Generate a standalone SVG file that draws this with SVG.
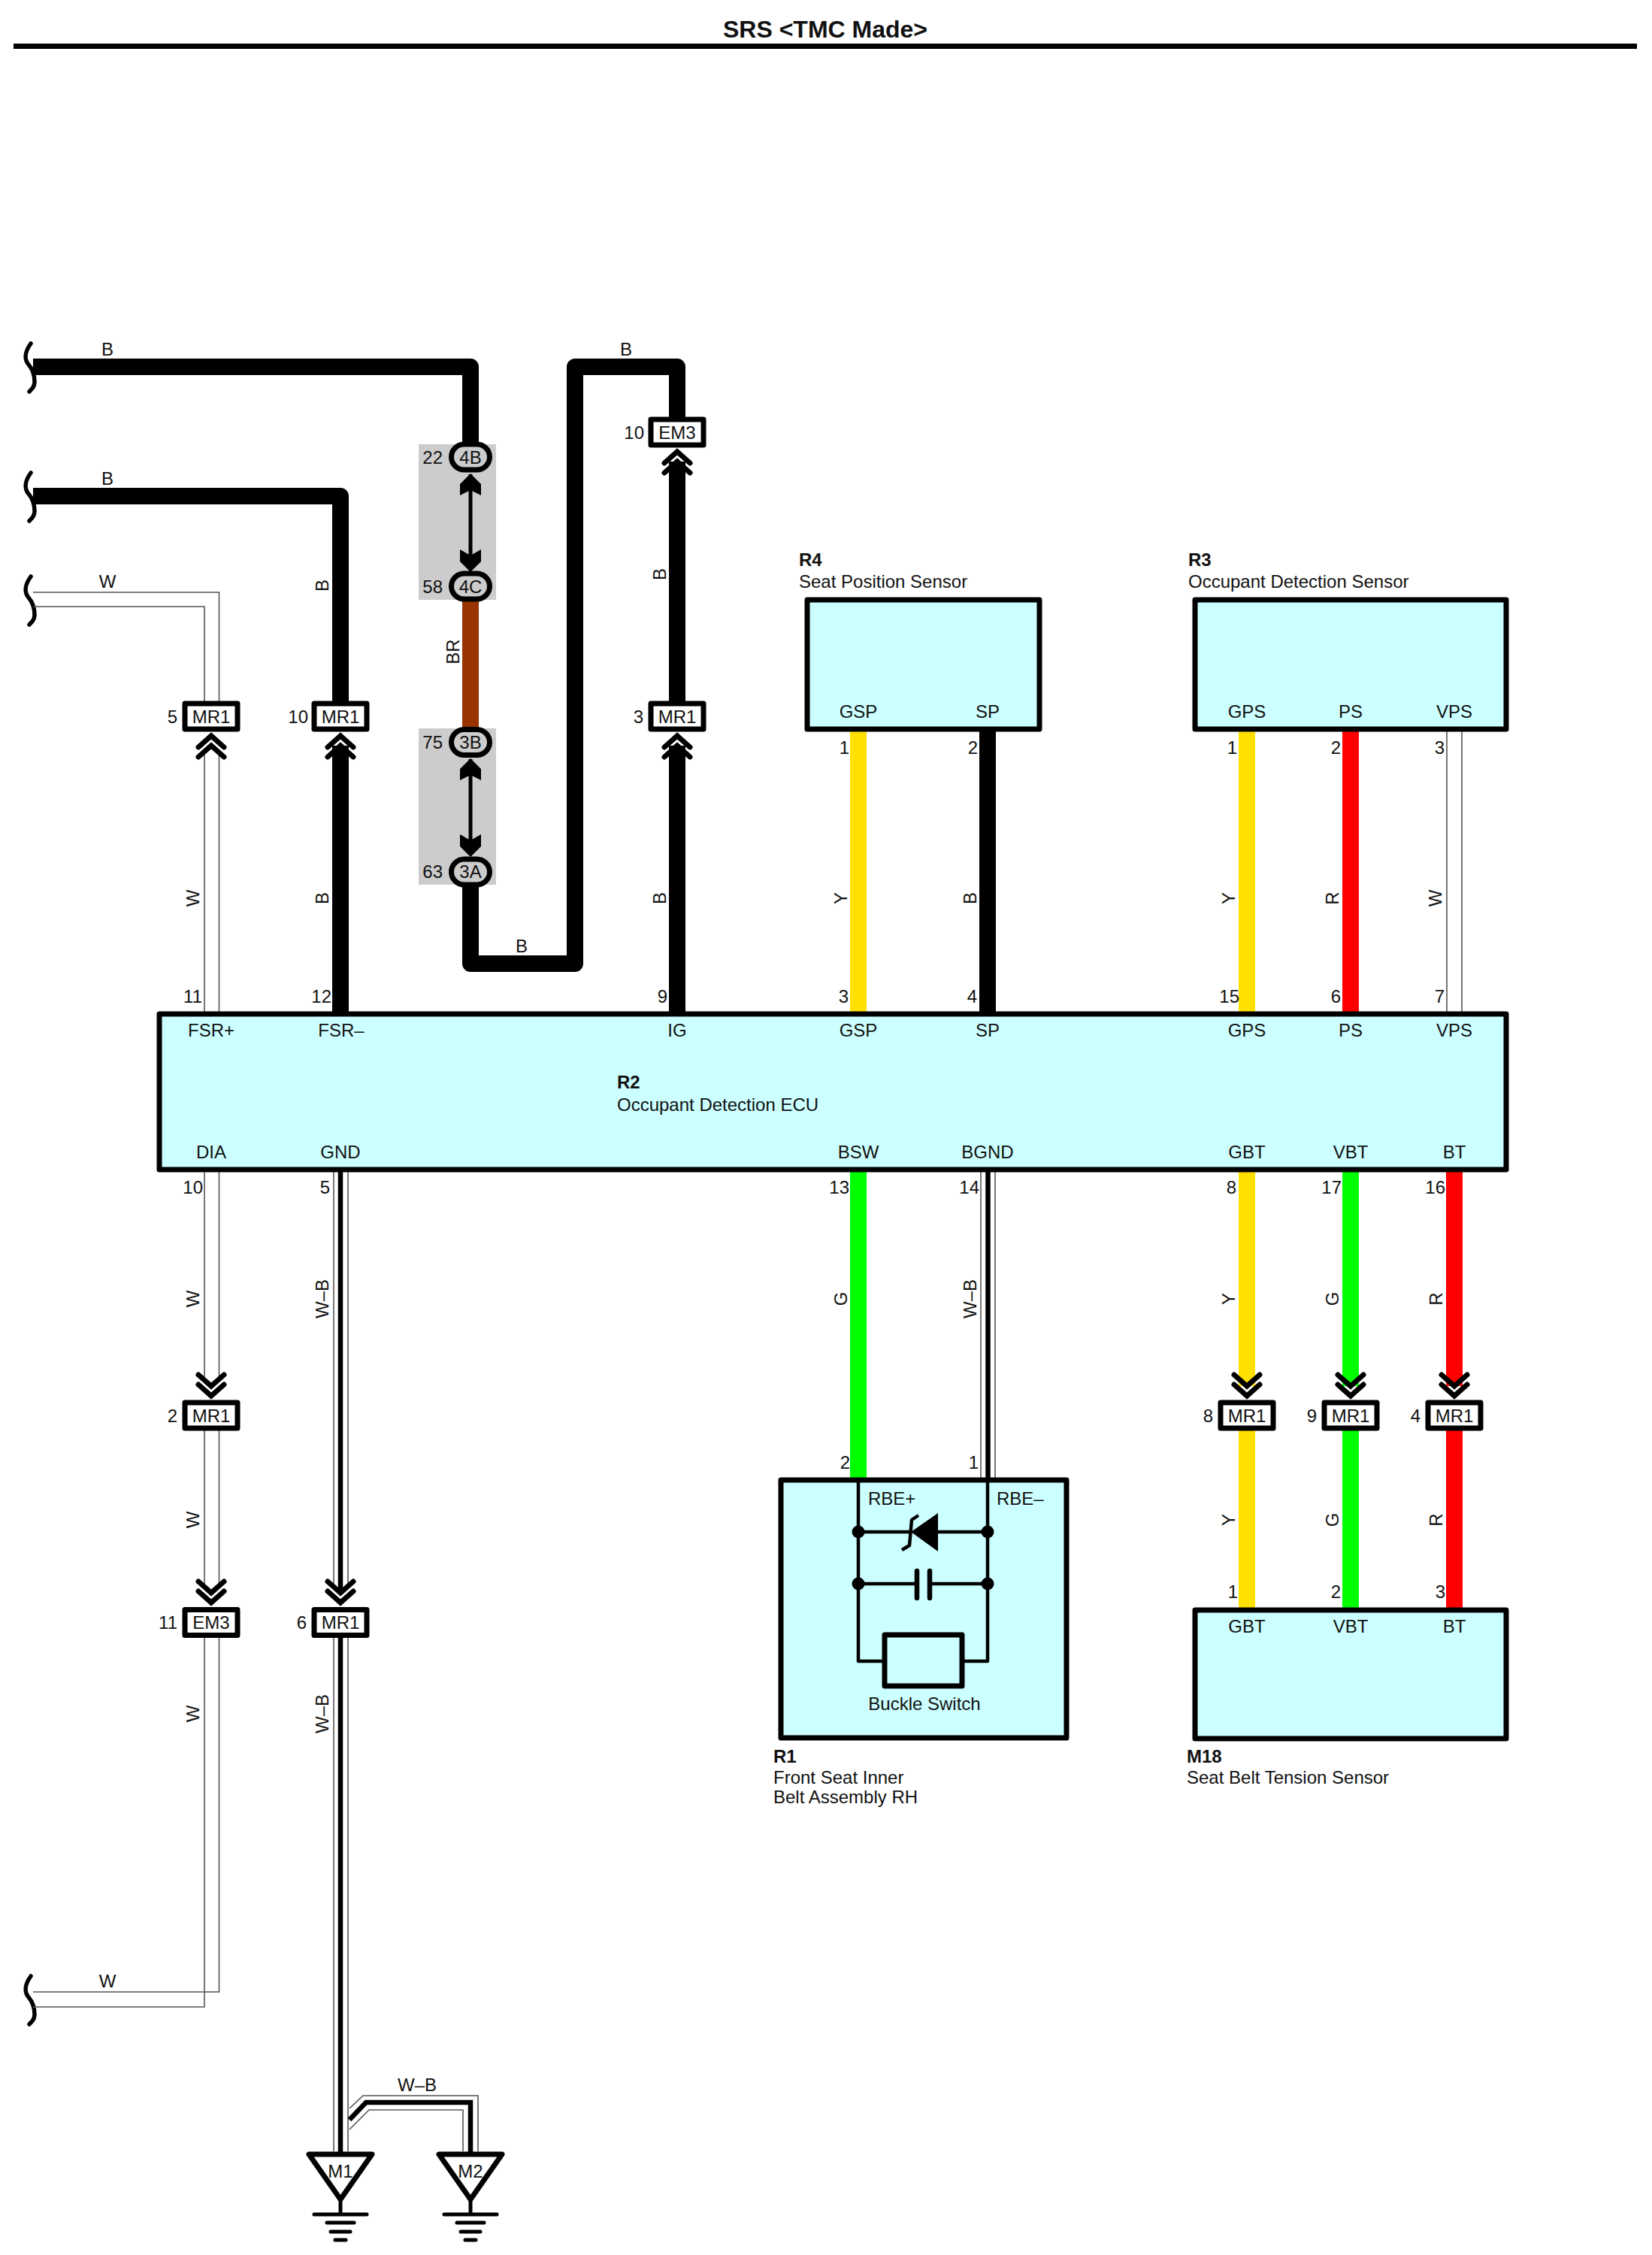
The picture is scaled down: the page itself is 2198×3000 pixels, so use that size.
<svg xmlns="http://www.w3.org/2000/svg" width="2198" height="3000" viewBox="0 0 2198 3000">
<style>
text{font-family:"Liberation Sans",Arial,sans-serif;font-size:24px;fill:#111}
.b{font-weight:bold}
.m{text-anchor:middle}
.e{text-anchor:end}
.box{fill:#ccffff;stroke:#000;stroke-width:7;stroke-linejoin:round}
.conn{fill:#fff;stroke:#000;stroke-width:7;stroke-linejoin:round}
.stad{fill:#ccc;stroke:#000;stroke-width:7}
.w{fill:none;stroke-width:22;stroke-linejoin:round}
.k{stroke:#000}.y{stroke:#ffe000}.r{stroke:#ff0000}.g{stroke:#00ff00}.br{stroke:#993300}
.wo{fill:none;stroke:#555;stroke-width:1.6}
.wb{fill:none;stroke:#000;stroke-width:6.5}
.ln{fill:none;stroke:#000;stroke-width:4.5;stroke-linejoin:round}
.chev{fill:none;stroke:#000;stroke-width:7;stroke-linecap:round}
.brk{fill:none;stroke:#000;stroke-width:5.5;stroke-linecap:round}
.gnd{fill:none;stroke:#000;stroke-width:5;stroke-linecap:round}
.tri{fill:#fff;stroke:#000;stroke-width:7;stroke-linejoin:round}
</style>
<defs>
<g id="dn"><path class="chev" d="M-17-34L0-19L17-34M-17-21L0-6L17-21"/></g>
<g id="up"><path class="chev" d="M-17 34L0 19L17 34M-17 21L0 6L17 21"/></g>
<path id="brkm" class="brk" d="M41-31C33-20 32-10 38-3C44 4 46 14 46 20C46 26 43 29 39 33"/>
<g id="dbl"><rect x="-2.5" y="23" width="5" height="125" fill="#000"/><path d="M0 22L14 36V51L0 44L-14 51V36Z M0 153L14 139V123L0 131L-14 123V139Z" fill="#000"/></g>
<g id="earth"><path class="gnd" d="M0 0V52M-35 52H35M-18 63H18M-13 75H13M-7 86H7"/></g>
</defs>
<text class="b m" x="1098" y="50" style="font-size:32px">SRS &lt;TMC Made&gt;</text>
<rect x="18" y="58" width="2160" height="7" fill="#000"/>
<g id="splice-shade" fill="#ccc"><rect x="557" y="591" width="103" height="207"/><rect x="557" y="969" width="103" height="208"/></g>
<g id="connectors">
<use href="#brkm" x="0" y="488"/><use href="#brkm" x="0" y="660"/><use href="#brkm" x="0" y="798"/><use href="#brkm" x="0" y="2660"/>
<path class="w k" d="M44 488H626V600"/>
<path class="w k" d="M44 660H453V933"/>
<path class="w k" d="M453 992V1346"/>
<path class="wo" d="M44 788H291.5V933M44 807H272V933"/>
<path class="wo" d="M272 1001V1346M291.5 1001V1346"/>
<path class="w br" d="M626 798V970"/>
<path class="w k" d="M626 1170V1282H765V488H901V560"/>
<path class="w k" d="M901 614V933M901 992V1346"/>
<path class="w y" d="M1142 973V1346"/><path class="w k" d="M1314 973V1346"/>
<path class="w y" d="M1659 973V1346"/><path class="w r" d="M1797 973V1346"/>
<path class="wo" d="M1925 973V1346M1945 973V1346"/>
<path class="wo" d="M272 1559V1835M291.5 1559V1835M272 1903V2110M291.5 1903V2110M272 2178V2670H44M291.5 2178V2650H44"/>
<path class="wo" d="M444 1559V2110M463 1559V2110M444 2178V2862M463 2178V2862"/>
<path class="wb" d="M453 1559V2120M453 2178V2864"/>
<path class="wo" d="M465 2805L483 2788H636V2862M465 2833L491 2807H616V2862"/>
<path class="wb" d="M465 2820L487 2797H626V2864"/>
<path class="w g" d="M1142 1559V1966"/>
<path class="wo" d="M1305 1559V1966M1324 1559V1966"/><path class="wb" d="M1314.5 1559V1966"/>
<path class="w y" d="M1659 1559V1844M1659 1903V2139"/>
<path class="w g" d="M1797 1559V1844M1797 1903V2139"/>
<path class="w r" d="M1935 1559V1844M1935 1903V2139"/>
<use href="#up" x="281" y="973"/><use href="#up" x="453" y="973"/><use href="#up" x="901" y="973"/><use href="#up" x="901" y="595"/>
<use href="#dn" x="281" y="1863"/><use href="#dn" x="281" y="2138"/><use href="#dn" x="453" y="2138"/>
<use href="#dn" x="1659" y="1863"/><use href="#dn" x="1797" y="1863"/><use href="#dn" x="1935" y="1863"/>
<use href="#dbl" x="626" y="608"/><use href="#dbl" x="626" y="987"/>
<g id="wire-labels">
<text class="m" x="143" y="473">B</text><text class="m" x="143" y="645">B</text><text class="m" x="143" y="782">W</text><text class="m" x="143" y="2644">W</text>
<text class="m" x="833" y="473">B</text><text class="m" x="694" y="1267">B</text><text class="m" x="555" y="2782">W–B</text>
<text class="m" transform="translate(437 779) rotate(-90)">B</text>
<text class="m" transform="translate(611 867) rotate(-90)">BR</text>
<text class="m" transform="translate(886 764) rotate(-90)">B</text>
<text class="m" transform="translate(265 1195) rotate(-90)">W</text>
<text class="m" transform="translate(437 1195) rotate(-90)">B</text>
<text class="m" transform="translate(886 1195) rotate(-90)">B</text>
<text class="m" transform="translate(1127 1195) rotate(-90)">Y</text>
<text class="m" transform="translate(1299 1195) rotate(-90)">B</text>
<text class="m" transform="translate(1643 1195) rotate(-90)">Y</text>
<text class="m" transform="translate(1781 1195) rotate(-90)">R</text>
<text class="m" transform="translate(1918 1195) rotate(-90)">W</text>
<text class="m" transform="translate(265 1728) rotate(-90)">W</text>
<text class="m" transform="translate(437 1728) rotate(-90)">W–B</text>
<text class="m" transform="translate(1127 1728) rotate(-90)">G</text>
<text class="m" transform="translate(1299 1728) rotate(-90)">W–B</text>
<text class="m" transform="translate(1643 1728) rotate(-90)">Y</text>
<text class="m" transform="translate(1781 1728) rotate(-90)">G</text>
<text class="m" transform="translate(1919 1728) rotate(-90)">R</text>
<text class="m" transform="translate(265 2022) rotate(-90)">W</text>
<text class="m" transform="translate(1643 2022) rotate(-90)">Y</text>
<text class="m" transform="translate(1781 2022) rotate(-90)">G</text>
<text class="m" transform="translate(1919 2022) rotate(-90)">R</text>
<text class="m" transform="translate(265 2280) rotate(-90)">W</text>
<text class="m" transform="translate(437 2280) rotate(-90)">W–B</text>
</g>
</g>
<g id="J4B"><rect class="stad" x="600.5" y="591" width="51" height="34" rx="17"/><text class="m" x="626" y="617">4B</text><text class="e" x="589" y="617">22</text></g>
<g id="J4C"><rect class="stad" x="600.5" y="763" width="51" height="34" rx="17"/><text class="m" x="626" y="789">4C</text><text class="e" x="589" y="789">58</text></g>
<g id="J3B"><rect class="stad" x="600.5" y="970.5" width="51" height="34" rx="17"/><text class="m" x="626" y="996">3B</text><text class="e" x="589" y="996">75</text></g>
<g id="J3A"><rect class="stad" x="600.5" y="1143" width="51" height="34" rx="17"/><text class="m" x="626" y="1168">3A</text><text class="e" x="589" y="1168">63</text></g>
<g id="MR1-5"><rect class="conn" x="246" y="936" width="70" height="34"/><text class="m" x="281" y="962">MR1</text><text class="e" x="236" y="962">5</text></g>
<g id="MR1-10"><rect class="conn" x="418" y="936" width="70" height="34"/><text class="m" x="453" y="962">MR1</text><text class="e" x="410" y="962">10</text></g>
<g id="MR1-3"><rect class="conn" x="866" y="936" width="70" height="34"/><text class="m" x="901" y="962">MR1</text><text class="e" x="856" y="962">3</text></g>
<g id="EM3-10"><rect class="conn" x="866" y="558" width="70" height="34"/><text class="m" x="901" y="584">EM3</text><text class="e" x="857" y="584">10</text></g>
<g id="MR1-2"><rect class="conn" x="246" y="1866" width="70" height="34"/><text class="m" x="281" y="1892">MR1</text><text class="e" x="236" y="1892">2</text></g>
<g id="EM3-11"><rect class="conn" x="246" y="2141.5" width="70" height="34"/><text class="m" x="281" y="2167">EM3</text><text class="e" x="236" y="2167">11</text></g>
<g id="MR1-6"><rect class="conn" x="418" y="2141.5" width="70" height="34"/><text class="m" x="453" y="2167">MR1</text><text class="e" x="408" y="2167">6</text></g>
<g id="MR1-8"><rect class="conn" x="1624" y="1866" width="70" height="34"/><text class="m" x="1659" y="1892">MR1</text><text class="e" x="1614" y="1892">8</text></g>
<g id="MR1-9"><rect class="conn" x="1762" y="1866" width="70" height="34"/><text class="m" x="1797" y="1892">MR1</text><text class="e" x="1752" y="1892">9</text></g>
<g id="MR1-4"><rect class="conn" x="1900" y="1866" width="70" height="34"/><text class="m" x="1935" y="1892">MR1</text><text class="e" x="1890" y="1892">4</text></g>
<g id="R4">
<text class="b" x="1063" y="753">R4</text><text x="1063" y="782">Seat Position Sensor</text>
<rect class="box" x="1074" y="798" width="309" height="172"/>
<text class="m" x="1142" y="955">GSP</text><text class="m" x="1314" y="955">SP</text>
<text class="e" x="1130" y="1003">1</text><text class="e" x="1301" y="1003">2</text>
</g>
<g id="R3">
<text class="b" x="1581" y="753">R3</text><text x="1581" y="782">Occupant Detection Sensor</text>
<rect class="box" x="1590" y="798" width="414" height="172"/>
<text class="m" x="1659" y="955">GPS</text><text class="m" x="1797" y="955">PS</text><text class="m" x="1935" y="955">VPS</text>
<text class="e" x="1646" y="1003">1</text><text class="e" x="1784" y="1003">2</text><text class="e" x="1922" y="1003">3</text>
</g>
<g id="R2">
<rect class="box" x="212" y="1349" width="1792" height="207"/>
<text class="b" x="821" y="1448">R2</text><text x="821" y="1478">Occupant Detection ECU</text>
<text class="e" x="269" y="1334">11</text><text class="e" x="441" y="1334">12</text><text class="e" x="888" y="1334">9</text><text class="e" x="1129" y="1334">3</text><text class="e" x="1300" y="1334">4</text><text class="e" x="1649" y="1334">15</text><text class="e" x="1784" y="1334">6</text><text class="e" x="1922" y="1334">7</text>
<text class="m" x="281" y="1379">FSR+</text><text class="m" x="454" y="1379">FSR–</text><text class="m" x="901" y="1379">IG</text><text class="m" x="1142" y="1379">GSP</text><text class="m" x="1314" y="1379">SP</text><text class="m" x="1659" y="1379">GPS</text><text class="m" x="1797" y="1379">PS</text><text class="m" x="1935" y="1379">VPS</text>
<text class="m" x="281" y="1541">DIA</text><text class="m" x="453" y="1541">GND</text><text class="m" x="1142" y="1541">BSW</text><text class="m" x="1314" y="1541">BGND</text><text class="m" x="1659" y="1541">GBT</text><text class="m" x="1797" y="1541">VBT</text><text class="m" x="1935" y="1541">BT</text>
<text class="e" x="270" y="1588">10</text><text class="e" x="439" y="1588">5</text><text class="e" x="1130" y="1588">13</text><text class="e" x="1303" y="1588">14</text><text class="e" x="1645" y="1588">8</text><text class="e" x="1785" y="1588">17</text><text class="e" x="1923" y="1588">16</text>
</g>
<g id="R1">
<rect class="box" x="1039" y="1969" width="380" height="343"/>
<path class="ln" d="M1142 1969V2210H1174M1314 1969V2210H1283M1142 2038H1213M1248 2038H1314M1142 2107H1220M1237 2107H1314"/>
<circle cx="1142" cy="2038" r="8.5"/><circle cx="1314" cy="2038" r="8.5"/><circle cx="1142" cy="2107" r="8.5"/><circle cx="1314" cy="2107" r="8.5"/>
<path d="M1212 2038L1248 2013V2064Z" fill="#000"/>
<path class="ln" d="M1222 2016L1213 2022L1210 2056L1200 2062"/>
<path d="M1220 2090V2126M1237 2090V2126" fill="none" stroke="#000" stroke-width="6.5" stroke-linecap="round"/>
<rect class="box" x="1177" y="2175" width="103" height="68"/>
<text class="m" x="1230" y="2275">Buckle Switch</text>
<text x="1155" y="2002">RBE+</text><text x="1326" y="2002">RBE–</text>
<text class="e" x="1131" y="1954">2</text><text class="e" x="1302" y="1954">1</text>
<text class="b" x="1029" y="2345">R1</text><text x="1029" y="2373">Front Seat Inner</text><text x="1029" y="2399">Belt Assembly RH</text>
</g>
<g id="M18">
<rect class="box" x="1590" y="2142" width="414" height="171"/>
<text class="e" x="1647" y="2126">1</text><text class="e" x="1784" y="2126">2</text><text class="e" x="1923" y="2126">3</text>
<text class="m" x="1659" y="2172">GBT</text><text class="m" x="1797" y="2172">VBT</text><text class="m" x="1935" y="2172">BT</text>
<text class="b" x="1579" y="2345">M18</text><text x="1579" y="2373">Seat Belt Tension Sensor</text>
</g>
<g id="M1"><use href="#earth" x="453" y="2894"/><path class="tri" d="M411 2866H495L453 2926Z"/><text class="m" x="453" y="2897">M1</text></g>
<g id="M2"><use href="#earth" x="626" y="2894"/><path class="tri" d="M584 2866H668L626 2926Z"/><text class="m" x="626" y="2897">M2</text></g>
</svg>
